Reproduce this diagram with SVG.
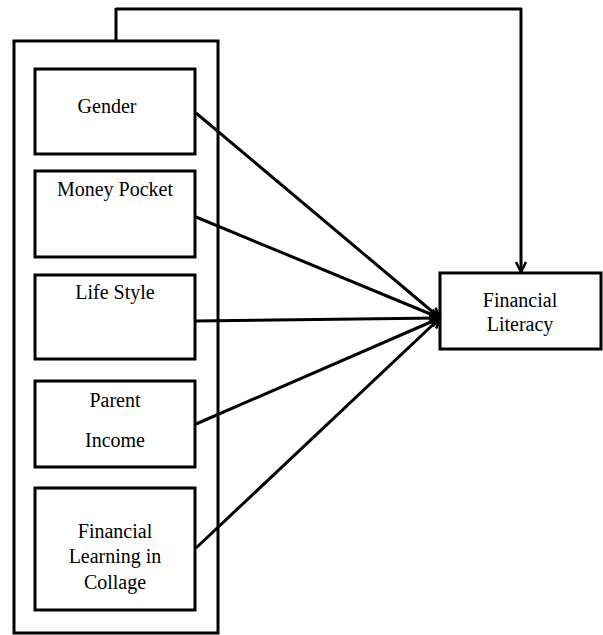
<svg xmlns="http://www.w3.org/2000/svg" width="603" height="635" viewBox="0 0 603 635">
<style>
.box{fill:#fff;stroke:#000;stroke-width:3}
text{font-family:'Liberation Serif','DejaVu Serif','Times New Roman',serif;font-size:20px;fill:#000;text-anchor:middle}
.c{fill:none;stroke:#000;stroke-width:3;stroke-linejoin:round}
</style>
<defs>
<marker id="ah" viewBox="0 0 12 12" refX="11" refY="6" markerWidth="12" markerHeight="12" markerUnits="userSpaceOnUse" orient="auto">
<path d="M1,1 L11,6 L1,11" fill="none" stroke="#000" stroke-width="2.5"/>
</marker>
</defs>
<g id="group-box">
<rect class="box" x="14" y="41" width="204" height="592"/>
</g>
<g id="gender">
<rect class="box" x="35" y="69" width="160" height="85"/>
<text x="107" y="113">Gender</text>
</g>
<g id="money-pocket">
<rect class="box" x="35" y="171" width="160" height="86"/>
<text x="115" y="196">Money Pocket</text>
</g>
<g id="life-style">
<rect class="box" x="35" y="275" width="160" height="84"/>
<text x="115" y="299">Life Style</text>
</g>
<g id="parent-income">
<rect class="box" x="35" y="381" width="160" height="86"/>
<text x="115" y="407">Parent</text>
<text x="115" y="447">Income</text>
</g>
<g id="financial-learning">
<rect class="box" x="35" y="488" width="160" height="122"/>
<text x="115" y="538">Financial</text>
<text x="115" y="563">Learning in</text>
<text x="115" y="589">Collage</text>
</g>
<g id="financial-literacy">
<rect class="box" x="440" y="273" width="161" height="76"/>
<text x="520" y="307">Financial</text>
<text x="520" y="331">Literacy</text>
</g>
<g id="connectors">
<path class="c" d="M116,41 V9 H521 V272" marker-end="url(#ah)"/>
<path class="c" d="M196,113 L440,318" marker-end="url(#ah)"/>
<path class="c" d="M196,217 L440,318" marker-end="url(#ah)"/>
<path class="c" d="M196,321 L440,318" marker-end="url(#ah)"/>
<path class="c" d="M196,424 L440,318" marker-end="url(#ah)"/>
<path class="c" d="M196,548 L440,318" marker-end="url(#ah)"/>
</g>
</svg>
